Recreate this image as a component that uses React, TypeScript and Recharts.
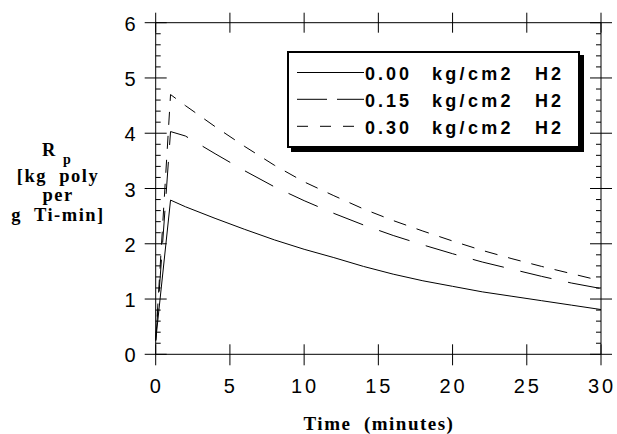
import React from 'react';
import { LineChart, Line, XAxis, YAxis, Legend } from 'recharts';

const times = [0, 1, 2, 4, 6, 8, 10, 12, 14, 16, 18, 20, 22, 24, 26, 28, 30];
const rp000 = [0.25, 2.79, 2.67, 2.46, 2.26, 2.07, 1.9, 1.75, 1.59, 1.45, 1.33, 1.23, 1.13, 1.05, 0.97, 0.89, 0.81];
const rp015 = [0.25, 4.03, 3.95, 3.63, 3.32, 3.03, 2.78, 2.55, 2.34, 2.15, 1.98, 1.82, 1.67, 1.54, 1.41, 1.29, 1.19];
const rp030 = [0.25, 4.7, 4.5, 4.12, 3.76, 3.42, 3.12, 2.87, 2.63, 2.42, 2.23, 2.05, 1.88, 1.73, 1.59, 1.46, 1.33];

const seriesLabels = ['0.00', '0.15', '0.30'];
const seriesKeys = ['h000', 'h015', 'h030'];
const seriesDash = ['', '32 17', '13 11'];
const legendDash = ['', '30 10', '11 12'];

const xTicks = [0, 5, 10, 15, 20, 25, 30];
const yTicks = [0, 0.2, 0.4, 0.6, 0.8, 1, 1.2, 1.4, 1.6, 1.8, 2, 2.2, 2.4, 2.6, 2.8, 3, 3.2, 3.4, 3.6, 3.8, 4, 4.2, 4.4, 4.6, 4.8, 5, 5.2, 5.4, 5.6, 5.8, 6];

const data = times.map((t, i) => ({ t, h000: rp000[i], h015: rp015[i], h030: rp030[i] }));

const sans = '"Liberation Sans", Arial, sans-serif';
const serif = '"Liberation Serif", "DejaVu Serif", serif';

const isMajor = (v: number) => Math.abs(v - Math.round(v)) < 1e-6;

// bottom axis: tickSize 10, margin 0 -> props.y = axisY + 10
const BottomTick = (props: any) => {
  const { x, y, payload } = props;
  const ay = y - 10;
  return (
    <g>
      <line x1={x} x2={x} y1={ay - 10} y2={ay + 11} stroke="#000" strokeWidth={1} />
      <text x={x + 1} y={ay + 39} textAnchor="middle" fontFamily={sans} fontSize={20} letterSpacing={3} fill="#000">
        {payload.value}
      </text>
    </g>
  );
};

const TopTick = (props: any) => {
  const { x, y } = props;
  const ay = y + 10;
  return <line x1={x} x2={x} y1={ay - 10} y2={ay + 10} stroke="#000" strokeWidth={1} />;
};

const LeftTick = (props: any) => {
  const { x, y, payload } = props;
  const ax = x + 10;
  const v = payload.value;
  if (!isMajor(v)) {
    return <line x1={ax} x2={ax + 5} y1={y} y2={y} stroke="#000" strokeWidth={1} />;
  }
  return (
    <g>
      <line x1={ax - 11} x2={ax + 11} y1={y} y2={y} stroke="#000" strokeWidth={1} />
      <text x={ax - 20} y={y + 8} textAnchor="end" fontFamily={sans} fontSize={20} fill="#000">
        {Math.round(v)}
      </text>
    </g>
  );
};

const RightTick = (props: any) => {
  const { x, y, payload } = props;
  const ax = x - 10;
  const v = payload.value;
  if (!isMajor(v)) {
    return <line x1={ax - 5} x2={ax} y1={y} y2={y} stroke="#000" strokeWidth={1} />;
  }
  return <line x1={ax - 11} x2={ax + 11} y1={y} y2={y} stroke="#000" strokeWidth={1} />;
};

const LegendBox = () => {
  const rowsY = [72.5, 99.3, 126.3];
  return (
    <div
      style={{
        position: 'relative',
        boxSizing: 'border-box',
        width: 293,
        height: 97,
        border: '2px solid #000',
        background: '#fff',
        boxShadow: '4px 4px 0 #000',
      }}
    >
      <svg width={293} height={97} style={{ position: 'absolute', left: -2, top: -2, overflow: 'visible' }}>
        {seriesLabels.map((lab, i) => {
          const cy = rowsY[i] - 51;
          return (
            <g key={lab}>
              <line x1={10} x2={77} y1={cy} y2={cy} stroke="#000" strokeWidth={1} strokeDasharray={legendDash[i] || undefined} />
              <text x={78} y={cy + 7.5} fontFamily={sans} fontWeight="bold" fontSize={18} letterSpacing={3} fill="#000">{lab}</text>
              <text x={145} y={cy + 7.5} fontFamily={sans} fontWeight="bold" fontSize={18} letterSpacing={3.3} fill="#000">kg/cm2</text>
              <text x={248} y={cy + 7.5} fontFamily={sans} fontWeight="bold" fontSize={18} letterSpacing={3} fill="#000">H2</text>
            </g>
          );
        })}
      </svg>
    </div>
  );
};

const titleStyle: React.CSSProperties = { whiteSpace: 'pre', fontFamily: serif, fontWeight: 700 };

const YTitle = () => (
  <g fill="#000">
    <text x={42} y={156} fontSize={18.5} style={titleStyle}>R</text>
    <text x={63} y={164} fontSize={14} style={titleStyle}>p</text>
    <text x={58} y={182} fontSize={18.5} textAnchor="middle" letterSpacing={1.5} style={titleStyle}>[kg  poly</text>
    <text x={58} y={201} fontSize={18.5} textAnchor="middle" letterSpacing={1.5} style={titleStyle}>per</text>
    <text x={58} y={221} fontSize={18.5} textAnchor="middle" letterSpacing={1.5} style={titleStyle}>g  Ti-min]</text>
  </g>
);

const XTitle = () => (
  <text x={379} y={430} textAnchor="middle" fontSize={19} letterSpacing={1.5} fill="#000" style={titleStyle}>
    Time  (minutes)
  </text>
);

export default function App() {
  return (
    <div style={{ position: 'absolute', left: 0, top: 0, width: 617, height: 434, background: '#fff' }}>
      <LineChart width={617} height={434} data={data} margin={{ top: 0, right: 0, bottom: 0, left: 0 }}>
        <XAxis
          xAxisId="bottom"
          dataKey="t"
          type="number"
          domain={[0, 30]}
          ticks={xTicks}
          interval={0}
          orientation="bottom"
          height={79.7}
          tickSize={10}
          tickMargin={0}
          tickLine={false}
          axisLine={{ stroke: '#000', strokeWidth: 1 }}
          tick={<BottomTick />}
          label={<XTitle />}
        />
        <XAxis
          xAxisId="top"
          dataKey="t"
          type="number"
          domain={[0, 30]}
          ticks={xTicks}
          interval={0}
          orientation="top"
          height={22.7}
          tickSize={10}
          tickMargin={0}
          tickLine={false}
          axisLine={{ stroke: '#000', strokeWidth: 1 }}
          tick={<TopTick />}
        />
        <YAxis
          yAxisId="left"
          type="number"
          domain={[0, 6]}
          ticks={yTicks}
          interval={0}
          orientation="left"
          width={155.7}
          tickSize={10}
          tickMargin={0}
          tickLine={false}
          axisLine={{ stroke: '#000', strokeWidth: 1 }}
          tick={<LeftTick />}
          label={<YTitle />}
        />
        <YAxis
          yAxisId="right"
          type="number"
          domain={[0, 6]}
          ticks={yTicks}
          interval={0}
          orientation="right"
          width={16}
          tickSize={10}
          tickMargin={0}
          tickLine={false}
          axisLine={{ stroke: '#000', strokeWidth: 1 }}
          tick={<RightTick />}
        />
        <Legend
          layout="vertical"
          align="center"
          verticalAlign="middle"
          wrapperStyle={{ position: 'absolute', left: 287, top: 51, width: 293, height: 97 }}
          content={<LegendBox />}
        />
        {seriesKeys.map((k, i) => (
          <Line
            key={k}
            xAxisId="bottom"
            yAxisId="left"
            type="linear"
            dataKey={k}
            name={seriesLabels[i]}
            stroke="#000"
            strokeWidth={1}
            strokeDasharray={seriesDash[i] || undefined}
            dot={false}
            activeDot={false}
            isAnimationActive={false}
          />
        ))}
        <Line
          xAxisId="top"
          yAxisId="right"
          type="linear"
          dataKey="h000"
          stroke="none"
          dot={false}
          activeDot={false}
          legendType="none"
          isAnimationActive={false}
        />
      </LineChart>
    </div>
  );
}
